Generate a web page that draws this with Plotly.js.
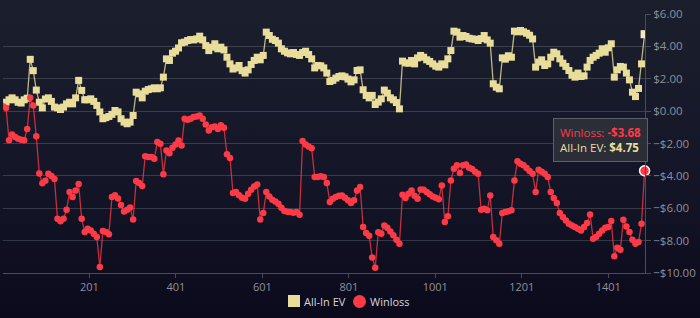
<!DOCTYPE html>
<html>
<head>
<meta charset="utf-8">
<script src="https://cdn.plot.ly/plotly-3.0.1.min.js"></script>
<style>
html,body{margin:0;padding:0;}
body{width:700px;height:318px;background:linear-gradient(to bottom,#1b1f2d 0%,#141627 55%,#0b0a1c 100%);overflow:hidden;}
#chart{width:700px;height:318px;}
</style>
</head>
<body>
<div id="chart"></div>
<script>
// Hand numbers (sampled every 7 hands)
const handStep = 7;
const firstHand = 1;

const allInEV = [
 0.35, 0.55, 0.7, 0.82, 0.7, 0.55, 0.5, 0.7, 0.8, 3.2,
 2.5, 1.3, 0.55, 0.2, 0.75, 0.82, 0.6, 0.25, 0.2, 0.1,
 0.25, 0.45, 0.55, 0.45, 0.82, 1.9, 1.28, 0.7, 0.7, 0.76,
 0.6, 0.35, -0.05, -0.47, -0.4, -0.33, -0.2, 0.04, -0.05, -0.47,
 -0.68, -0.78, -0.68,
 -0.27, 1.17, 1.07, 0.82, 1.23, 1.33, 1.38, 1.44, 1.38, 1.44,
 2.1, 3.23, 3.13, 3.58, 3.7, 3.9, 4.22, 4.26, 4.36, 4.42,
 4.4, 4.46, 4.63, 4.4, 4.05, 3.74, 3.95, 4.16, 3.85, 3.95,
 3.78, 3.33, 2.92, 2.6, 2.67, 2.82, 2.5, 2.35, 2.55, 2.88,
 3.13, 3.33,
 3.17, 3.44, 4.88, 4.67, 4.44, 4.36, 4.2, 3.85, 3.7, 3.6,
 3.54, 3.62, 3.5, 3.44, 3.62, 3.7, 3.5, 3.23, 2.67, 2.82,
 2.8, 2.67, 2.35, 1.83, 1.9, 2.04, 2.14, 2.18, 2.12, 1.98,
 1.81, 1.93, 2.51, 2.55, 1.32, 0.97, 0.82, 0.97, 0.41, 0.56,
 0.76, 1.3,
 1.11, 0.82, 0.7, 0.53, 0.14, 3.09, 2.98, 2.96, 3.13, 2.92,
 3.29, 3.44, 3.33, 3.17, 3.07, 2.92, 2.78, 2.72, 2.92, 2.86,
 3.23, 3.74, 4.94, 4.88, 4.57, 4.67, 4.61, 4.5, 4.46, 4.44,
 4.36, 4.48, 4.67, 4.4, 4.2, 1.69, 1.48, 1.38, 3.29, 3.21,
 3.42, 3.33,
 4.94, 4.9, 4.98, 4.9, 4.81, 4.69, 4.46, 2.72, 3.03, 3.17,
 2.82, 2.92, 3.33, 3.64, 3.54, 3.23, 2.96, 2.76, 2.51, 2.22,
 2.1, 2.35, 2.14, 2.18, 2.72, 3.13, 3.33, 3.44, 3.58, 3.85,
 3.64, 3.91, 4.16, 2.1, 2.55, 2.76, 2.72, 2.35, 1.93, 1.17,
 0.9, 1.4, 2.92, 4.75
];

const winloss = [
 0.3, 0.2, -1.8, -1.45, -1.6, -1.7, -1.77, -1.8, -1.1, 0.82,
 0.35, -1.55, -3.85, -4.45, -4.3, -3.87, -4.0, -4.2, -6.65, -6.8,
 -6.65, -6.1, -5.0, -5.3, -4.9, -4.5, -6.65, -7.47, -7.26, -7.37,
 -7.57, -7.78, -9.63, -7.4, -7.47, -7.6, -5.3, -5.2, -5.4, -5.8,
 -6.2, -6.1, -5.95,
 -6.7, -4.32, -4.44, -4.63, -2.78, -2.84, -2.84, -2.94, -1.91, -2.02,
 -3.9, -2.43, -2.6, -2.26, -2.06, -1.81, -2.12, -0.47, -0.53, -0.47,
 -0.37, -0.33, -0.27, -0.47, -0.82, -1.19, -0.99, -0.95, -1.11, -0.88,
 -1.03, -2.67, -2.9, -5.06, -5.0, -5.2, -5.35, -5.41, -5.1, -4.86,
 -4.65, -4.53,
 -6.7, -6.3, -5.0, -5.27, -5.47, -5.58, -5.72, -5.97, -6.17, -6.21,
 -6.23, -6.28, -6.23, -6.4, -1.85, -2.06, -2.18, -2.3, -4.07, -4.07,
 -4.03, -4.07, -4.44, -5.62, -5.41, -5.31, -5.23, -5.21, -5.35, -5.51,
 -5.68, -5.51, -4.9, -4.69, -7.16, -7.53, -7.7, -9.05, -9.67, -7.49,
 -7.57, -7.06,
 -7.2, -7.43, -7.67, -7.94, -8.19, -5.16, -5.37, -5.1, -4.9, -5.23,
 -5.41, -4.84, -4.86, -5.0, -5.14, -5.27, -5.35, -5.45, -4.59, -6.85,
 -6.5, -4.28, -3.56, -3.35, -3.83, -3.35, -3.29, -3.5, -3.58, -3.74,
 -3.87, -6.09, -6.03, -6.13, -5.21, -7.78, -7.98, -8.19, -6.3, -6.23,
 -6.19, -6.13,
 -4.28, -3.09, -3.25, -3.35, -3.52, -3.7, -3.87, -5.0, -3.62, -3.74,
 -3.87, -4.07, -5.0, -5.37, -5.68, -6.3, -6.54, -6.75, -6.95, -7.06,
 -7.16, -7.26, -7.37, -7.16, -6.91, -6.38, -7.88, -7.78, -7.57, -7.37,
 -7.2, -7.16, -6.79, -8.97, -8.44, -8.56, -6.71, -7.12, -7.47, -7.94,
 -8.19, -8.09, -6.95, -3.68
];

const xTickVals = [201, 401, 601, 801, 1001, 1201, 1401];
const yTickVals = [-10, -8, -6, -4, -2, 0, 2, 4, 6];
const seriesNames = ['All-In EV', 'Winloss'];

const hands = allInEV.map((_, i) => firstHand + handStep * i);

const evColor = '#e9dd9c';
const wlColor = '#ff3a47';

function money(v){ return (v < 0 ? '-' : '') + '$' + Math.abs(v).toFixed(2); }

const lastX = hands[hands.length - 1];
const lastEV = allInEV[allInEV.length - 1];
const lastWL = winloss[winloss.length - 1];

const traces = [
  {x: hands, y: allInEV, type: 'scatter', mode: 'lines+markers', name: seriesNames[0], showlegend: false,
   line: {color: 'rgba(233,221,156,0.8)', width: 1.3},
   marker: {symbol: 'square', size: 7, color: evColor}, hoverinfo: 'skip'},
  {x: hands, y: winloss, type: 'scatter', mode: 'lines+markers', name: seriesNames[1], showlegend: false,
   line: {color: 'rgba(255,58,71,0.75)', width: 1.3},
   marker: {symbol: 'circle', size: 6.5, color: wlColor}, hoverinfo: 'skip'},
  // hovered points
  {x: [lastX], y: [lastEV], type: 'scatter', mode: 'markers', showlegend: false, hoverinfo: 'skip',
   marker: {symbol: 'square', size: 8, color: '#f3ebc0'}},
  {x: [lastX], y: [lastWL], type: 'scatter', mode: 'markers', showlegend: false, hoverinfo: 'skip', cliponaxis: false,
   marker: {symbol: 'circle', size: 10, color: wlColor, line: {color: '#ffffff', width: 1.5}}}
];

const tipText = '<span style="color:' + wlColor + '">Winloss: <b>' + money(lastWL) + '</b></span><br>' +
                '<span style="color:' + evColor + '">All-In EV: <b>' + money(lastEV) + '</b></span>';

const fontFam = '"Open Sans", "Noto Sans", sans-serif';
const legY = -0.11;
function legAnn(x, text){
  return {xref: 'paper', yref: 'paper', x: x, y: legY, xanchor: 'left', yanchor: 'middle',
          text: text, showarrow: false, borderpad: 0,
          font: {size: 11, color: '#d6d6dc', family: fontFam}};
}

const layout = {
  width: 700, height: 318,
  paper_bgcolor: 'rgba(0,0,0,0)',
  plot_bgcolor: 'rgba(0,0,0,0)',
  margin: {l: 3, r: 55, t: 14, b: 45},
  font: {family: fontFam, size: 11, color: '#8e909b'},
  showlegend: false,
  xaxis: {range: [1, 1486], tickvals: xTickVals, ticktext: xTickVals.map(String),
          showgrid: false, zeroline: false, showline: true, linecolor: '#4a4d59', linewidth: 1,
          ticks: 'outside', ticklen: 4, tickcolor: '#4a4d59', tickfont: {size: 11, color: '#8e909b'},
          automargin: false, fixedrange: true},
  yaxis: {range: [-10, 6], side: 'right', tickvals: yTickVals, tickformat: '$.2f',
          showgrid: true, gridcolor: 'rgba(255,255,255,0.16)', gridwidth: 1,
          zeroline: false, showline: true, linecolor: '#4a4d59', linewidth: 1,
          ticks: 'outside', ticklen: 5, tickcolor: '#4a4d59', tickfont: {size: 11.5, color: '#8e909b'},
          automargin: false, fixedrange: true},
  shapes: [
    {type: 'rect', xref: 'paper', yref: 'paper', x0: 0.4439, x1: 0.4626, y0: -0.1313, y1: -0.085,
     fillcolor: evColor, line: {width: 0}, layer: 'above'},
    {type: 'circle', xref: 'paper', yref: 'paper', x0: 0.5452, x1: 0.5654, y0: -0.1352, y1: -0.0851,
     fillcolor: wlColor, line: {width: 0}, layer: 'above'}
  ],
  annotations: [{
    xref: 'paper', yref: 'paper', x: 1.005, y: 0.514, xanchor: 'right', yanchor: 'middle',
    text: tipText, showarrow: false, align: 'left',
    font: {size: 11.5, family: fontFam},
    bgcolor: 'rgba(44,46,56,0.95)', bordercolor: '#5d606b', borderwidth: 1, borderpad: 6
  },
    legAnn(0.4673, seriesNames[0]),
    legAnn(0.5701, seriesNames[1])
  ]
};

Plotly.newPlot('chart', traces, layout, {displayModeBar: false, staticPlot: true});
</script>
</body>
</html>
